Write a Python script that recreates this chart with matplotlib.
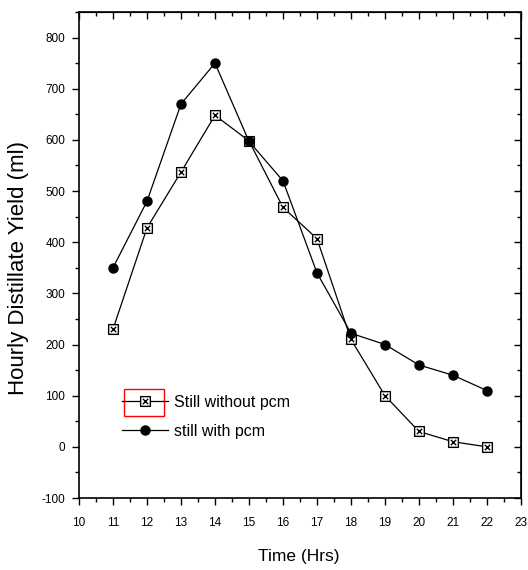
import matplotlib
matplotlib.use("Agg")
import matplotlib.pyplot as plt
from matplotlib.ticker import MultipleLocator
from matplotlib.patches import Rectangle
from matplotlib.path import Path

hours = [11, 12, 13, 14, 15, 16, 17, 18, 19, 20, 21, 22]
without_pcm = [230, 428, 537, 648, 598, 468, 407, 210, 100, 30, 10, 0]
with_pcm = [350, 480, 670, 750, 597, 520, 340, 222, 200, 160, 140, 110]
x_ticks = list(range(10, 24))
y_ticks = list(range(-100, 801, 100))

plt.rcParams['font.family'] = ['Liberation Sans', 'DejaVu Sans']
plt.rcParams['axes.unicode_minus'] = False

# square marker with a crossed interior
sq_x = Path(
    [(-1, -1), (1, -1), (1, 1), (-1, 1), (-1, -1),
     (-0.55, -0.55), (0.55, 0.55), (-0.55, 0.55), (0.55, -0.55)],
    [Path.MOVETO, Path.LINETO, Path.LINETO, Path.LINETO, Path.CLOSEPOLY,
     Path.MOVETO, Path.LINETO, Path.MOVETO, Path.LINETO])

fig = plt.figure(figsize=(5.28, 5.70), dpi=100)
ax = fig.add_axes([0.1496, 0.1263, 0.8371, 0.8527])

l1, = ax.plot(hours, without_pcm, color='black', lw=0.9, marker=sq_x, ms=7,
              mfc='white', mec='black', mew=1.0, label='Still without pcm')
l2, = ax.plot(hours, with_pcm, color='black', lw=0.9, marker='o', ms=6.5,
              mfc='black', mec='black', label='still with pcm')

ax.set_xlim(10, 23)
ax.set_ylim(-100, 850)
ax.set_xticks(x_ticks)
ax.set_yticks(y_ticks)
ax.xaxis.set_minor_locator(MultipleLocator(0.5))
ax.yaxis.set_minor_locator(MultipleLocator(50))

ax.tick_params(axis='both', which='major', direction='out', length=5, width=1,
               labelsize=8.5, top=False, right=False)
ax.tick_params(axis='x', which='major', pad=9)
ax.tick_params(axis='y', which='major', pad=5)
ax.tick_params(axis='both', which='minor', direction='out', length=3, width=1,
               top=False, right=False)
for s in ax.spines.values():
    s.set_linewidth(1.2)

# inward ticks on top and right
axt = ax.secondary_xaxis('top')
axt.set_xticks(x_ticks)
axt.xaxis.set_minor_locator(MultipleLocator(0.5))
axt.tick_params(which='major', direction='in', length=5, width=1, labeltop=False)
axt.tick_params(which='minor', direction='in', length=3, width=1)
axr = ax.secondary_yaxis('right')
axr.set_yticks(y_ticks)
axr.yaxis.set_minor_locator(MultipleLocator(50))
axr.tick_params(which='major', direction='in', length=5, width=1, labelright=False)
axr.tick_params(which='minor', direction='in', length=3, width=1)

ax.set_xlabel('Time (Hrs)', fontsize=12.5)
ax.set_ylabel('Hourly Distillate Yield (ml)', fontsize=16)
ax.xaxis.set_label_coords(0.497, -0.105)
ax.yaxis.set_label_coords(-0.113, 0.473)

leg = fig.legend(handles=[l1, l2], loc='upper left',
                 bbox_to_anchor=(122 / 528, 1 - 395 / 570),
                 frameon=False, fontsize=11.5, handlelength=2.9,
                 handletextpad=0.35, labelspacing=0.85, borderpad=0,
                 borderaxespad=0)

# red selection box around first legend marker
fig.patches.append(Rectangle((124 / 528, 1 - 416 / 570), 40 / 528, 27 / 570,
                             transform=fig.transFigure, fill=False,
                             ec='red', lw=1.0))

fig.savefig('out.png', dpi=100)
